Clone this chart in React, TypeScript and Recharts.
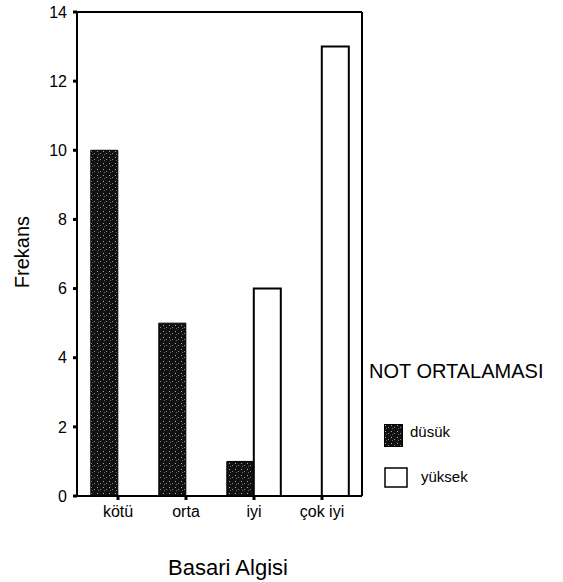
import React from 'react';
import { BarChart, Bar, XAxis, YAxis, Legend, Label, CartesianGrid } from 'recharts';

const categories = ['kötü', 'orta', 'iyi', 'çok iyi'];
const dusuk = [10, 5, 1, 0];
const yuksek = [0, 0, 6, 13];
const yTicks = [0, 2, 4, 6, 8, 10, 12, 14];

const data = categories.map((name, i) => ({ name, dusuk: dusuk[i], yuksek: yuksek[i] }));

const FONT = '"Liberation Sans", Arial, sans-serif';

function LegendBox() {
  return (
    <div style={{ fontFamily: FONT, color: '#000', position: 'relative', width: 195, height: 130 }}>
      <div style={{ position: 'absolute', left: 0, top: 0, fontSize: 20, whiteSpace: 'nowrap' }}>
        NOT ORTALAMASI
      </div>
      <svg style={{ position: 'absolute', left: 15, top: 64 }} width={19} height={23}>
        <rect x={0.5} y={0.5} width={18} height={22} fill="url(#speckle)" stroke="#000" />
      </svg>
      <div style={{ position: 'absolute', left: 41, top: 63, fontSize: 15 }}>düsük</div>
      <svg style={{ position: 'absolute', left: 15, top: 107 }} width={24} height={21}>
        <rect x={1} y={1} width={22} height={19} fill="#fff" stroke="#000" strokeWidth={1.5} />
      </svg>
      <div style={{ position: 'absolute', left: 52, top: 108, fontSize: 15 }}>yüksek</div>
    </div>
  );
}

export default function App() {
  return (
    <div style={{ position: 'absolute', left: 0, top: 0, width: 563, height: 582, background: '#fff' }}>
      <BarChart
        width={563}
        height={582}
        data={data}
        margin={{ top: 12, right: 201, bottom: 0, left: 0 }}
        barCategoryGap="10%"
        barGap={0}
      >
        <defs>
          <pattern id="speckle" width="6" height="6" patternUnits="userSpaceOnUse">
            <rect width="6" height="6" fill="#111" />
            <rect x="1" y="1" width="1" height="1" fill="#aaa" />
            <rect x="4" y="3" width="1" height="1" fill="#888" />
            <rect x="2" y="4" width="1" height="1" fill="#666" />
          </pattern>
        </defs>
        {/* frame: top and right edges of the plot area */}
        <CartesianGrid
          stroke="#000"
          strokeWidth={2}
          horizontalCoordinatesGenerator={({ offset }: any) => [offset.top]}
          verticalCoordinatesGenerator={({ offset }: any) => [offset.left + offset.width]}
        />
        <XAxis
          dataKey="name"
          padding={{ left: 7, right: 6 }}
          stroke="#000"
          strokeWidth={2}
          tickSize={4}
          tickLine={{ stroke: '#000', strokeWidth: 3 }}
          tick={{ fill: '#000', fontSize: 16, fontFamily: FONT }}
          tickMargin={6}
          height={86}
        >
          <Label
            content={() => (
              <text x={228} y={575} textAnchor="middle" fontSize={22} fontFamily={FONT} fill="#000">
                Basari Algisi
              </text>
            )}
          />
        </XAxis>
        <YAxis
          domain={[0, 14]}
          ticks={yTicks}
          width={77}
          stroke="#000"
          strokeWidth={2}
          tickSize={4}
          tickLine={{ stroke: '#000', strokeWidth: 3 }}
          tick={{ fill: '#000', fontSize: 16, fontFamily: FONT }}
          tickMargin={6}
        >
          <Label
            content={() => (
              <text
                x={29}
                y={252}
                textAnchor="middle"
                fontSize={20}
                fontFamily={FONT}
                fill="#000"
                transform="rotate(-90 29 252)"
              >
                Frekans
              </text>
            )}
          />
        </YAxis>
        <Legend
          layout="vertical"
          align="center"
          verticalAlign="middle"
          wrapperStyle={{ left: 369, top: 360, width: 195 }}
          content={() => <LegendBox />}
        />
        <Bar dataKey="dusuk" name="düsük" fill="url(#speckle)" stroke="#000" strokeWidth={1} isAnimationActive={false} />
        <Bar dataKey="yuksek" name="yüksek" fill="#fff" stroke="#000" strokeWidth={2} isAnimationActive={false} />
      </BarChart>
    </div>
  );
}
